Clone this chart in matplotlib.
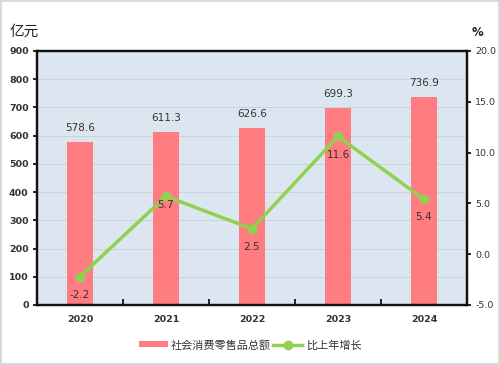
import matplotlib
matplotlib.use("Agg")
import matplotlib.pyplot as plt
from matplotlib.lines import Line2D
from matplotlib.patches import Patch

plt.rcParams['font.family'] = ['DejaVu Sans', 'Noto Sans CJK SC']

years = ['2020', '2021', '2022', '2023', '2024']
sales = [578.6, 611.3, 626.6, 699.3, 736.9]
growth = [-2.2, 5.7, 2.5, 11.6, 5.4]
left_ticks = [0, 100, 200, 300, 400, 500, 600, 700, 800, 900]
right_ticks = [-5.0, 0.0, 5.0, 10.0, 15.0, 20.0]
bar_label_name = '社会消费零售品总额'
line_label_name = '比上年增长'

bar_color = '#ff7c80'
line_color = '#92d050'
bg_color = '#dce6f1'
text_color = '#333333'

fig = plt.figure(figsize=(5.0, 3.65), dpi=100)
fig.patch.set_facecolor('white')
fig.patch.set_edgecolor('#d9d9d9')
fig.patch.set_linewidth(1.5)

ax = fig.add_axes([37/500, 1 - 305/365, 430/500, 254/365])
ax.set_facecolor(bg_color)
x = list(range(len(years)))
ax.bar(x, sales, width=0.31, color=bar_color, zorder=2)
ax.set_xlim(-0.5, len(years) - 0.5)
ax.set_ylim(0, 900)
ax.set_yticks(left_ticks)
ax.set_yticklabels([str(t) for t in left_ticks])
ax.grid(axis='y', color='#c8d0da', linewidth=0.6, zorder=0)
ax.set_axisbelow(True)
ax.set_xticks(x)
ax.set_xticklabels(years)
ax.set_xticks([i + 0.5 for i in x[:-1]], minor=True)
ax.tick_params(axis='x', which='major', length=0, pad=7, labelsize=6.8, labelcolor=text_color)
ax.tick_params(axis='x', which='minor', length=4, direction='in', width=1.2)
ax.tick_params(axis='y', length=3, width=1.2, labelsize=6.8, labelcolor=text_color, pad=3)
for lab in ax.get_xticklabels() + ax.get_yticklabels():
    lab.set_fontweight('bold')
for s in ax.spines.values():
    s.set_linewidth(1.6)
    s.set_color('#111111')

for xi, v in zip(x, sales):
    ax.annotate(f'{v:.1f}', (xi, v), xytext=(0, 14), textcoords='offset pixels',
                ha='center', va='center', fontsize=7.5, color=text_color)

ax2 = ax.twinx()
ax2.set_ylim(-5, 20)
ax2.set_yticks(right_ticks)
ax2.set_yticklabels([f'{t:.1f}' for t in right_ticks])
ax2.tick_params(axis='y', length=3, width=1.2, labelsize=6.8, labelcolor=text_color, pad=3)
for s in ax2.spines.values():
    s.set_linewidth(1.6)
    s.set_color('#111111')
ax2.plot(x, growth, color=line_color, linewidth=2.5, marker='o', markersize=6, zorder=3)
offsets = [-18, -9, -18, -19, -18]
for xi, v, off in zip(x, growth, offsets):
    ax2.annotate(f'{v:.1f}', (xi, v), xytext=(0, off), textcoords='offset pixels',
                 ha='center', va='center', fontsize=7.5, color=text_color)

fig.text(10/500, 1 - 32/365, '亿元', fontsize=10.5, ha='left', va='center',
         family=['Noto Sans CJK SC', 'DejaVu Sans'], color='#222222')
fig.text(477/500, 1 - 32/365, '%', fontsize=8.5, ha='center', va='center',
         fontweight='bold', color='#222222')

handles = [Patch(facecolor=bar_color, edgecolor='none'),
           Line2D([0], [0], color=line_color, linewidth=2.5, marker='o', markersize=6)]
leg = fig.legend(handles, [bar_label_name, line_label_name], loc='center',
                 bbox_to_anchor=(0.5, 1 - 345/365), ncol=2, frameon=False,
                 prop={'family': ['Noto Sans CJK SC', 'DejaVu Sans'], 'size': 8},
                 handlelength=2.6, handleheight=0.45, handletextpad=0.3, columnspacing=0.2,
                 labelcolor='#333333')

fig.savefig('out.png', dpi=100, facecolor=fig.get_facecolor(), edgecolor=fig.get_edgecolor())
